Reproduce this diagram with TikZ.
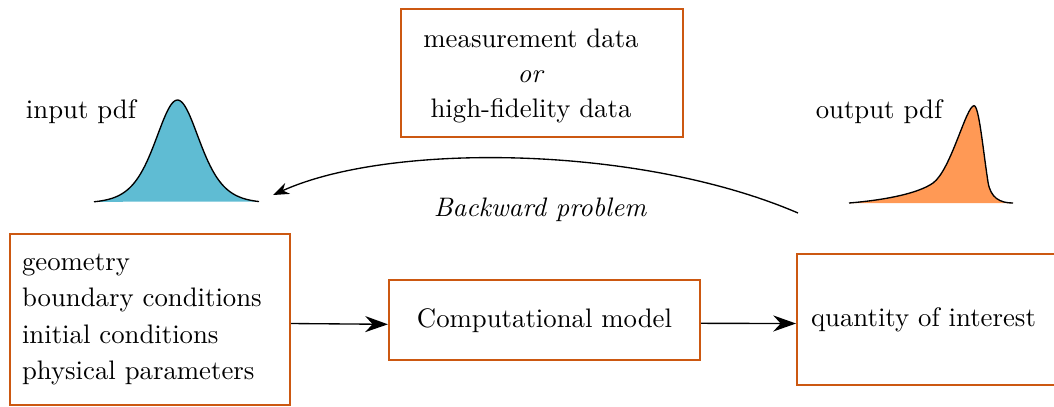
\documentclass[tikz,border=0pt]{standalone}
\usetikzlibrary{arrows.meta}
\newcommand\px{0.3735pt}
\definecolor{boxcol}{RGB}{204,88,17}
\definecolor{infill}{RGB}{95,188,211}
\definecolor{outfill}{RGB}{255,153,85}
\tikzset{
  box/.style={draw=boxcol, line width=0.8pt, rectangle, inner sep=0pt},
  conn/.style={line width=0.5pt, -{Stealth[length=8.5pt,width=6pt]}},
  backconn/.style={line width=0.5pt, -{Stealth[length=6pt,width=4.5pt]}},
  lbl/.style={inner sep=0pt}
}
\begin{document}
\begin{tikzpicture}[x=0.3735pt, y=-0.3735pt]
\useasboundingbox (0,0) rectangle (1054,406);

% boxes
\node[box, minimum width=282*\px, minimum height=128*\px] (data) at (542,73) {};
\node[lbl, align=center, font={\fontsize{10}{13.1}\selectfont}] (datatext) at (531,76) {measurement data\\ \textit{or}\\ high-fidelity data};

\node[box, minimum width=280*\px, minimum height=171*\px, text width=256*\px, align=left, inner xsep=12*\px, font={\fontsize{10}{13.5}\selectfont}] (inp) at (150,319.5) {geometry\\ boundary conditions\\ initial conditions\\ physical parameters};

\node[box, minimum width=311*\px, minimum height=80*\px] (model) at (544.5,320.3) {Computational model};

\node[box, anchor=west, minimum width=280*\px, minimum height=131*\px, text width=252*\px, align=left, inner xsep=14*\px] (qoi) at (796,319.5) {quantity of interest};

% connectors
\draw[conn] ([yshift=-4*\px]inp.east) -- ([yshift=-4*\px]model.west);
\draw[conn] ([yshift=-3*\px]model.east) -- ([yshift=-4*\px]qoi.west);

% backward problem
\coordinate (bwstart) at (798,213);
\coordinate (bwend) at (273,195);
\draw[backconn] (bwstart) .. controls (640,145) and (390,142) .. (bwend);
\node[lbl, font=\itshape] (bwlabel) at (540,210) {Backward problem};

% input pdf
\node[lbl] (inlabel) at (81,112) {input pdf};
\fill[infill] plot[domain=94:259, samples=140] (\x,{203.3-103.3*4/(exp(0.0335*(\x-177.5))+exp(-0.0335*(\x-177.5)))^2}) -- cycle;
\draw[line width=0.5pt] plot[domain=94:259, samples=140] (\x,{203.3-103.3*4/(exp(0.0335*(\x-177.5))+exp(-0.0335*(\x-177.5)))^2});

% output pdf
\node[lbl] (outlabel) at (879,112) {output pdf};
\fill[outfill] (849,203) .. controls (885,200) and (918,193.5) .. (933,183)
  .. controls (951,170) and (966,106) .. (974,105.7)
  .. controls (979,105.5) and (983,150) .. (988,182)
  .. controls (990.5,198) and (1000,203) .. (1013,203) -- cycle;
\draw[line width=0.5pt] (849,203) .. controls (885,200) and (918,193.5) .. (933,183)
  .. controls (951,170) and (966,106) .. (974,105.7)
  .. controls (979,105.5) and (983,150) .. (988,182)
  .. controls (990.5,198) and (1000,203) .. (1013,203);
\end{tikzpicture}
\end{document}
